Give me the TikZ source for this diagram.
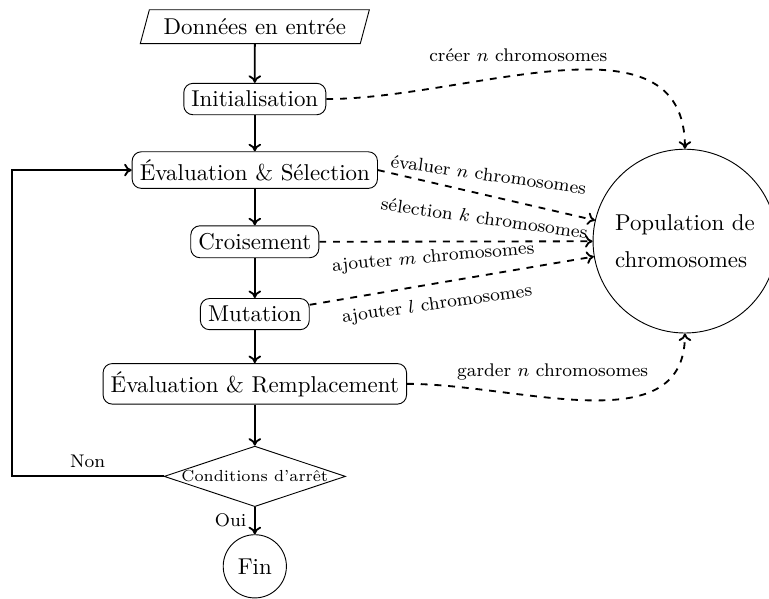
\documentclass[tikz,border=0pt]{standalone}
\usetikzlibrary{shapes.geometric, arrows.meta}
\begin{document}
\begin{tikzpicture}[>={To[length=3.3pt, width=5.5pt]},
	bloc/.style={draw, rounded corners=4pt},
	fleche/.style={thick, ->},
	pointille/.style={thick, dashed, ->},
	lbl/.style={font=\footnotesize}]
	\useasboundingbox (0,0) rectangle (11.80,-9.19);
	
	\node[draw, trapezium, trapezium left angle=75, trapezium right angle=105, inner xsep=3pt, minimum height=.52cm] (entree) at (3.91,-.41) {Données en entrée};
	\node[bloc] (init) at (3.91,-1.52) {Initialisation};
	\node[bloc] (evalsel) at (3.91,-2.61) {Évaluation \& Sélection};
	\node[bloc] (crois) at (3.91,-3.71) {Croisement};
	\node[bloc] (mut) at (3.91,-4.82) {Mutation};
	\node[bloc] (evalrem) at (3.91,-5.89) {Évaluation \& Remplacement};
	\node[draw, diamond, aspect=3, inner sep=0pt, font=\scriptsize] (arret) at (3.91,-7.31) {Conditions d’arrêt};
	\node[draw, circle, minimum size=.97cm] (fin) at (3.91,-8.69) {Fin};
	\node[draw, circle, minimum size=2.82cm, align=left] (pop) at (10.51,-3.70) {Population de\\[4pt]chromosomes};
	\coordinate (retour) at (.18,-7.31);
	
	\draw[fleche] (entree) -- (init);
	\draw[fleche] (init) -- (evalsel);
	\draw[fleche] (evalsel) -- (crois);
	\draw[fleche] (crois) -- (mut);
	\draw[fleche] (mut) -- (evalrem);
	\draw[fleche] (evalrem) -- (arret);
	\draw[fleche] (arret) -- node[lbl, left] {Oui} (fin);
	\draw[fleche] (arret) -- node[lbl, above] {Non} (retour) |- (evalsel);
	
	\draw[pointille] (init.east) to[out=0, in=90] node[lbl, pos=.41, above=2pt] {créer $n$ chromosomes} (pop.north);
	\draw[pointille] (evalsel.east) -- node[lbl, above=2.5pt, rotate=-8] {évaluer $n$ chromosomes} node[lbl, below=3.5pt, rotate=-8] {sélection $k$ chromosomes} (pop);
	\draw[pointille] (crois.east) -- (pop);
	\draw[pointille] (mut) -- node[lbl, pos=.44, above=4pt, rotate=5] {ajouter $m$ chromosomes} node[lbl, pos=.44, below=2pt, rotate=8] {ajouter $l$ chromosomes} (pop);
	\draw[pointille] (evalrem.east) to[out=0, in=-90] node[lbl, pos=.4, above=4pt] {garder $n$ chromosomes} (pop.south);
\end{tikzpicture}
\end{document}
